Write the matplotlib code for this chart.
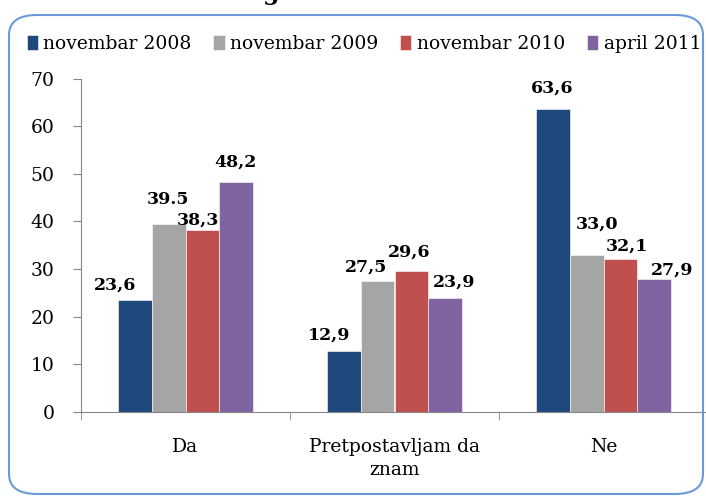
import matplotlib.pyplot as plt
import numpy as np
from matplotlib.patches import FancyBboxPatch

categories = ['Da', 'Pretpostavljam da\nznam', 'Ne']
series = ['novembar 2008', 'novembar 2009', 'novembar 2010', 'april 2011']
values = [
    [23.6, 12.9, 63.6],
    [39.5, 27.5, 33.0],
    [38.3, 29.6, 32.1],
    [48.2, 23.9, 27.9],
]
labels = [
    ['23,6', '12,9', '63,6'],
    ['39.5', '27,5', '33,0'],
    ['38,3', '29,6', '32,1'],
    ['48,2', '23,9', '27,9'],
]
colors = ['#1F497D', '#A5A5A5', '#C0504D', '#8064A2']

# label offsets from bar top (pixels)
label_dx = [[-20, -15, -1], [-1, -12, 10], [-4, -2, 7], [-1, 9, 18]]
label_dy = [[14, 15, 21], [24, 14, 31], [9, 19, 13], [20, 16, 9]]

plt.rcParams['font.family'] = 'DejaVu Serif'

fig = plt.figure(figsize=(7.06, 4.99), dpi=100)
ax = fig.add_axes([81 / 706, 87 / 499, 627 / 706, 333.5 / 499])

x = np.arange(len(categories))
w = 0.1615
for i in range(len(series)):
    pos = x + (i - 1.5) * w
    ax.bar(pos, values[i], w, color=colors[i], label=series[i],
           edgecolor='white', linewidth=0.4)
    for j in range(len(categories)):
        ax.annotate(labels[i][j], (pos[j], values[i][j]),
                    xytext=(label_dx[i][j], label_dy[i][j]),
                    textcoords='offset pixels', ha='center', va='center',
                    fontsize=12.5, fontweight='bold')

ax.set_xlim(-0.5, 2.5)
ax.set_ylim(0, 70)
ax.set_yticks(range(0, 71, 10))
ax.set_xticks(x)
ax.set_xticklabels(categories, linespacing=1.35)
ax.set_xticks(np.arange(-0.5, 3, 1), minor=True)
ax.tick_params(axis='x', which='major', length=0, pad=19, labelsize=13.5)
ax.tick_params(axis='x', which='minor', length=6, color='#868686')
ax.tick_params(axis='y', length=6, color='#868686', pad=13, labelsize=13.5)
for s in ['top', 'right']:
    ax.spines[s].set_visible(False)
for s in ['left', 'bottom']:
    ax.spines[s].set_color('#868686')

fig.legend(loc='center left', bbox_to_anchor=(0.027, 0.912), ncol=4,
           frameon=False, fontsize=13.5, handlelength=0.6, handleheight=0.8,
           handletextpad=0.3, columnspacing=1.15, borderaxespad=0)

border = FancyBboxPatch((9 / 706, 5 / 499), 694 / 706, 479 / 499,
                        boxstyle='round,pad=0,rounding_size=0.04',
                        transform=fig.transFigure, facecolor='none',
                        edgecolor='#6A9AD8', linewidth=1.5)
fig.patches.append(border)

fig.text(0.372, 1.0, 'g', fontsize=17, fontweight='bold', va='baseline')

fig.savefig('out.png', dpi=100)
